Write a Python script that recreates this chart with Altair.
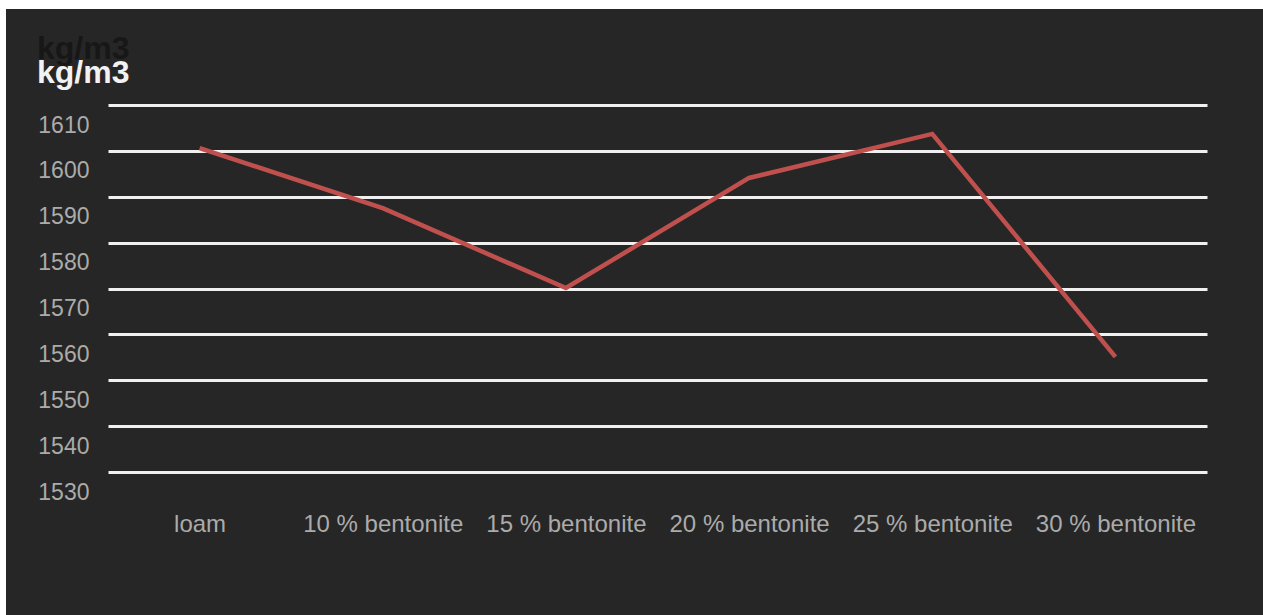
import altair as alt
import pandas as pd

categories = ["loam", "10 % bentonite", "15 % bentonite", "20 % bentonite", "25 % bentonite", "30 % bentonite"]
density = [1600.6, 1587.5, 1570.1, 1594.1, 1603.7, 1555.1]
y_ticks = [1530, 1540, 1550, 1560, 1570, 1580, 1590, 1600, 1610]

df = pd.DataFrame({"mix": categories, "density": density})

BG = "#262626"
FONT = "Liberation Sans"

line = alt.Chart(df).mark_line(color="#c0504d", strokeWidth=4.5).encode(
    x=alt.X("mix:N", sort=categories, scale=alt.Scale(paddingOuter=0.5),
            axis=alt.Axis(title=None, labelAngle=0, domain=False, ticks=False,
                          labelPadding=40, labelFontSize=24, labelColor="#ababab",
                          labelFont=FONT, grid=False)),
    y=alt.Y("density:Q", scale=alt.Scale(domain=[1530, 1610], nice=False, zero=False),
            axis=alt.Axis(title=None, values=y_ticks, format="d", domain=False, ticks=False,
                          labelPadding=19, labelOffset=20, labelFontSize=23,
                          labelColor="#ababab", labelFont=FONT,
                          grid=True, gridColor="#f0f0f0", gridWidth=3)),
)

strip = pd.DataFrame({"k": [0]})
top_strip = alt.Chart(strip).mark_rect(color="white").encode(
    x=alt.value(-108), x2=alt.value(1155), y=alt.value(-105), y2=alt.value(-96))
left_strip = alt.Chart(strip).mark_rect(color="white").encode(
    x=alt.value(-108), x2=alt.value(-102), y=alt.value(-105), y2=alt.value(510))

chart = alt.layer(line, top_strip, left_strip).properties(
    width=1099, height=367,
    autosize=alt.AutoSizeParams(type="none"),
    padding={"left": 108, "top": 105, "right": 56, "bottom": 143},
    background=BG,
    title=alt.TitleParams(text="kg/m3", subtitle="kg/m3", anchor="start", frame="bounds",
                          font=FONT, fontSize=32, fontWeight="bold", color="#171717",
                          subtitleFont=FONT, subtitleFontSize=32, subtitleFontWeight="bold",
                          subtitleColor="#f2f2f2", subtitlePadding=-8, offset=-90, dx=37),
).configure_view(stroke=None)

chart.save("out.html", embed_options={"renderer": "svg", "actions": False})
